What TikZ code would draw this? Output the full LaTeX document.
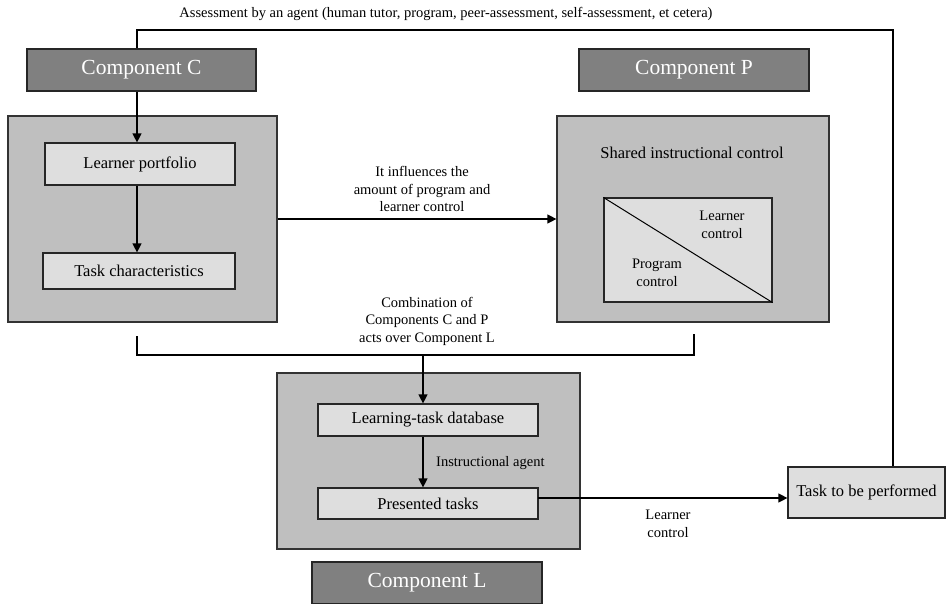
\documentclass[tikz,border=0pt]{standalone}
\usepackage{fontspec}
\setmainfont{Liberation Serif}
\usetikzlibrary{arrows.meta}
\tikzset{
  comp/.style={draw=black!85, fill=black!50, line width=1.2pt, minimum width=229pt,
    minimum height=42pt, inner sep=0pt, text=white, font=\fontsize{21.5}{24}\selectfont},
  outer/.style={draw=black!80, fill=black!25, line width=1.2pt, inner sep=0pt},
  inner/.style={draw=black!85, fill=black!13, line width=1.2pt, inner sep=0pt,
    font=\fontsize{16.5}{19}\selectfont},
  lbl/.style={inner sep=0pt, align=center, font=\fontsize{14.5}{17.5}\selectfont},
  wire/.style={line width=1.2pt},
  conn/.style={line width=1.2pt, -{Triangle[length=9pt,width=9pt]}},
}

\begin{document}
\begin{tikzpicture}[x=1pt,y=-1pt]
\useasboundingbox (0,0) rectangle (946,603);
% component C
\node[outer, minimum width=269pt, minimum height=206pt] (boxC) at (142.5,219) {};
\node[comp] (compC) at (141.5,70) {Component C};
\node[inner, minimum width=190pt, minimum height=42pt] (portf) at (140,164) {Learner portfolio};
\node[inner, minimum width=192pt, minimum height=36pt] (taskch) at (139,271) {Task characteristics};
% component P
\node[comp, minimum width=230pt] (compP) at (694,70) {Component P};
\node[outer, minimum width=272pt, minimum height=206pt] (boxP) at (693,219) {};
\node[lbl, font=\fontsize{16.5}{19}\selectfont] (shared) at (692,153) {Shared instructional control};
\node[inner, minimum width=168pt, minimum height=104pt] (ctrl) at (688,250) {};
\draw[line width=1pt] (ctrl.north west) -- (ctrl.south east);
\node[lbl] (lrnctrl) at (722,225) {Learner\\control};
\node[lbl] (prgctrl) at (657,273) {Program\\control};
% component L
\node[outer, minimum width=303pt, minimum height=176pt] (boxL) at (428.5,461) {};
\node[inner, minimum width=220pt, minimum height=32pt] (dbase) at (428,420) {Learning-task database};
\node[inner, minimum width=220pt, minimum height=31pt] (pres) at (428,503.5) {Presented tasks};
\node[lbl, anchor=west] (instr) at (436,463) {Instructional agent};
\node[comp, minimum width=230pt] (compL) at (427,583) {Component L};
\node[inner, minimum width=157pt, minimum height=51pt] (task) at (866.5,492.5) {Task to be performed};
% labels
\node[lbl] (assess) at (446,14) {Assessment by an agent (human tutor, program, peer-assessment, self-assessment, et cetera)};
\node[lbl] (infl) at (422,189) {It influences the\\amount of program and\\learner control};
\node[lbl] (combi) at (427,321) {Combination of\\Components C and P\\acts over Component L};
\node[lbl] (lrn) at (668,524) {Learner\\control};
% connectors
\coordinate (tl) at (137,30);
\coordinate (tr) at (893,30);
\draw[wire] (tr |- task.north) -- (tr) -- (tl) -- (tl |- compC.north);
\draw[conn] (tl |- compC.south) -- (tl |- portf.north);
\draw[conn] (tl |- portf.south) -- (tl |- taskch.north);
\draw[conn] (boxC.east) -- (boxP.west);
\coordinate (bl) at (137,355);
\coordinate (br) at (694,355);
\coordinate (bm) at (423,355);
\draw[wire] (137,336) -- (bl) -- (br) -- (694,334);
\draw[conn] (bm) -- (bm |- dbase.north);
\draw[conn] (bm |- dbase.south) -- (bm |- pres.north);
\coordinate (pe) at (538,498);
\draw[conn] (pe) -- (pe -| task.west);
\end{tikzpicture}
\end{document}
